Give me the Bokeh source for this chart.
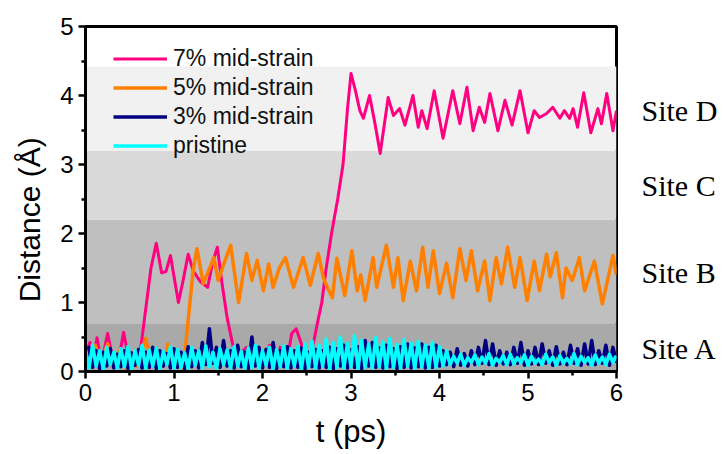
from bokeh.plotting import figure
from bokeh.models import Range1d, FixedTicker, LinearAxis
from bokeh.embed import file_html
from bokeh.resources import INLINE

# ---------------- data ----------------
site_names = ["Site A", "Site B", "Site C", "Site D"]
band_bottom = [0.0, 0.7, 2.2, 3.2]
band_top = [0.7, 2.2, 3.2, 4.42]
site_label_y = [0.33, 1.43, 2.70, 3.78]

series_names = ["7% mid-strain", "5% mid-strain", "3% mid-strain", "pristine"]

t7 = [0.0, 0.05, 0.09, 0.13, 0.18, 0.25, 0.32, 0.38, 0.43, 0.50, 0.58, 0.62, 0.68, 0.74, 0.80,
      0.86, 0.91, 0.96, 1.05, 1.10, 1.16, 1.22, 1.30, 1.38, 1.44, 1.49, 1.54, 1.60, 1.67, 1.72,
      1.78, 1.82, 1.88, 1.95, 2.02, 2.08, 2.14, 2.20, 2.27, 2.33, 2.38, 2.44, 2.50, 2.55, 2.62,
      2.67, 2.72, 2.78, 2.85, 2.91, 2.96, 3.00, 3.05, 3.10, 3.14, 3.21, 3.27, 3.33, 3.42, 3.48,
      3.55, 3.61, 3.70, 3.76, 3.80, 3.86, 3.94, 4.04, 4.15, 4.23, 4.31, 4.38, 4.45, 4.51, 4.57,
      4.66, 4.74, 4.82, 4.91, 5.00, 5.07, 5.13, 5.21, 5.28, 5.36, 5.41, 5.47, 5.51, 5.56, 5.63,
      5.71, 5.79, 5.83, 5.89, 5.96, 6.00]
d7 = [0.25, 0.42, 0.15, 0.49, 0.12, 0.55, 0.10, 0.20, 0.57, 0.12, 0.08, 0.30, 0.90, 1.50, 1.86,
      1.43, 1.45, 1.68, 1.00, 1.30, 1.70, 1.45, 1.30, 1.22, 1.60, 1.80, 1.30, 0.78, 0.35, 0.12,
      0.30, 0.35, 0.10, 0.30, 0.12, 0.38, 0.10, 0.35, 0.10, 0.55, 0.62, 0.40, 0.10, 0.25, 0.70,
      1.00, 1.50, 2.00, 2.50, 3.00, 3.80, 4.32, 4.07, 3.78, 3.67, 4.00, 3.60, 3.16, 3.97, 3.71,
      3.81, 3.57, 4.00, 3.54, 3.78, 3.52, 4.07, 3.38, 4.07, 3.59, 4.12, 3.49, 3.83, 3.61, 4.03,
      3.49, 3.93, 3.57, 4.07, 3.46, 3.78, 3.68, 3.74, 3.83, 3.67, 3.78, 3.67, 3.81, 3.54, 4.04,
      3.46, 3.81, 3.59, 4.03, 3.49, 3.78]

t5 = [0.0, 0.05, 0.11, 0.17, 0.25, 0.31, 0.38, 0.45, 0.52, 0.58, 0.68, 0.75, 0.82, 0.88, 0.93,
      1.00, 1.05, 1.10, 1.13, 1.18, 1.22, 1.26, 1.33, 1.45, 1.50, 1.56, 1.64, 1.73, 1.82, 1.88,
      1.94, 2.01, 2.07, 2.12, 2.19, 2.26, 2.35, 2.46, 2.54, 2.63, 2.69, 2.74, 2.79, 2.84, 2.93,
      3.01, 3.07, 3.11, 3.16, 3.25, 3.29, 3.40, 3.48, 3.53, 3.59, 3.67, 3.74, 3.81, 3.87, 3.93,
      4.00, 4.08, 4.15, 4.23, 4.30, 4.36, 4.43, 4.51, 4.57, 4.64, 4.70, 4.77, 4.85, 4.91, 4.99,
      5.07, 5.13, 5.21, 5.25, 5.32, 5.39, 5.43, 5.50, 5.58, 5.64, 5.75, 5.84, 5.96, 6.00]
d5 = [0.20, 0.10, 0.38, 0.12, 0.40, 0.08, 0.30, 0.05, 0.25, 0.08, 0.48, 0.10, 0.30, 0.08, 0.40,
      0.12, 0.30, 0.05, 0.35, 1.00, 1.50, 1.78, 1.27, 1.65, 1.32, 1.55, 1.83, 1.00, 1.71, 1.32,
      1.61, 1.17, 1.56, 1.22, 1.50, 1.65, 1.22, 1.65, 1.25, 1.71, 1.35, 1.20, 1.07, 1.64, 1.10,
      1.75, 1.17, 1.40, 1.03, 1.65, 1.22, 1.83, 1.22, 1.65, 1.03, 1.60, 1.17, 1.80, 1.22, 1.75,
      1.13, 1.57, 1.07, 1.78, 1.32, 1.75, 1.17, 1.60, 1.03, 1.65, 1.27, 1.80, 1.22, 1.65, 1.03,
      1.60, 1.17, 1.70, 1.37, 1.72, 1.07, 1.50, 1.32, 1.65, 1.17, 1.60, 0.98, 1.68, 1.40]

# sampling grid (every 0.04 ps) shared by the two low-lying series
t_low = [round(0.04 * i, 2) for i in range(151)]
d3 = [0.10, 0.35, 0.06, 0.30, 0.04, 0.28, 0.08, 0.33, 0.05, 0.25, 0.07, 0.30, 0.04, 0.27, 0.09, 0.32, 0.05, 0.28, 0.06, 0.35,
      0.04, 0.30, 0.08, 0.26, 0.05, 0.33, 0.06, 0.28, 0.04, 0.36, 0.07, 0.30, 0.05, 0.42, 0.10, 0.62, 0.12, 0.35, 0.06, 0.45,
      0.08, 0.30, 0.05, 0.38, 0.07, 0.28, 0.04, 0.50, 0.08, 0.35, 0.05, 0.32, 0.06, 0.42, 0.04, 0.30, 0.07, 0.36, 0.05, 0.30,
      0.06, 0.34, 0.04, 0.28, 0.07, 0.32, 0.05, 0.30, 0.06, 0.35, 0.04, 0.33, 0.08, 0.38, 0.05, 0.31, 0.06, 0.36, 0.04, 0.45,
      0.08, 0.42, 0.06, 0.34, 0.05, 0.38, 0.07, 0.33, 0.04, 0.36, 0.06, 0.40, 0.05, 0.34, 0.07, 0.40, 0.05, 0.35, 0.06, 0.38,
      0.08, 0.30, 0.10, 0.28, 0.07, 0.33, 0.09, 0.26, 0.08, 0.30, 0.10, 0.35, 0.12, 0.45, 0.10, 0.40, 0.09, 0.30, 0.11, 0.28,
      0.10, 0.35, 0.12, 0.42, 0.09, 0.30, 0.11, 0.35, 0.10, 0.40, 0.12, 0.30, 0.09, 0.36, 0.11, 0.28, 0.10, 0.38, 0.12, 0.33,
      0.09, 0.40, 0.11, 0.45, 0.10, 0.30, 0.12, 0.38, 0.09, 0.35, 0.13]
d0 = [0.32, 0.05, 0.38, 0.08, 0.30, 0.04, 0.35, 0.10, 0.28, 0.05, 0.33, 0.07, 0.36, 0.04, 0.30, 0.09, 0.38, 0.05, 0.31, 0.08,
      0.34, 0.04, 0.29, 0.10, 0.36, 0.05, 0.32, 0.06, 0.27, 0.04, 0.35, 0.09, 0.30, 0.05, 0.37, 0.07, 0.28, 0.04, 0.33, 0.10,
      0.31, 0.05, 0.36, 0.08, 0.29, 0.04, 0.34, 0.06, 0.38, 0.05, 0.30, 0.09, 0.35, 0.04, 0.32, 0.07, 0.37, 0.05, 0.33, 0.08,
      0.36, 0.04, 0.40, 0.06, 0.44, 0.05, 0.38, 0.08, 0.47, 0.04, 0.42, 0.06, 0.50, 0.05, 0.41, 0.07, 0.52, 0.04, 0.45, 0.06,
      0.40, 0.05, 0.49, 0.07, 0.43, 0.04, 0.48, 0.06, 0.39, 0.05, 0.46, 0.08, 0.41, 0.04, 0.44, 0.07, 0.38, 0.05, 0.42, 0.06,
      0.36, 0.08, 0.30, 0.10, 0.22, 0.12, 0.25, 0.09, 0.20, 0.13, 0.24, 0.10, 0.21, 0.12, 0.26, 0.09, 0.19, 0.13, 0.23, 0.10,
      0.25, 0.11, 0.20, 0.13, 0.24, 0.09, 0.22, 0.12, 0.18, 0.10, 0.25, 0.13, 0.21, 0.09, 0.23, 0.12, 0.19, 0.11, 0.26, 0.10,
      0.22, 0.13, 0.20, 0.09, 0.24, 0.12, 0.21, 0.10, 0.25, 0.13, 0.23]

x_ticks = [0, 1, 2, 3, 4, 5, 6]
y_ticks = [0, 1, 2, 3, 4, 5]
x_minor = [0.5, 1.5, 2.5, 3.5, 4.5, 5.5]
y_minor = [0.5, 1.5, 2.5, 3.5, 4.5]

# ---------------- styles ----------------
band_colors = ["#a9a9a9", "#bfbfbf", "#d9d9d9", "#f1f1f1"]
line_colors = ["#ff0080", "#ff8000", "#000080", "#00ffff"]
line_widths = [3, 3.5, 3.5, 3.5]
SANS = "Liberation Sans"
SERIF = "Liberation Serif"

p = figure(width=720, height=454, x_range=Range1d(0, 6), y_range=Range1d(0, 5),
           output_backend="svg", toolbar_location=None,
           min_border_left=85, min_border_right=103, min_border_top=26, min_border_bottom=83)
p.xgrid.visible = False
p.ygrid.visible = False
p.outline_line_color = "black"
p.outline_line_width = 3
p.outline_line_alpha = 1
p.background_fill_color = "white"

# site bands
p.quad(left=0, right=6, bottom=band_bottom, top=band_top, fill_color=band_colors, line_color=None)

series = [(t7, d7), (t5, d5), (t_low, d3), (t_low, d0)]
for (tt, dd), name, col, lw in zip(series, series_names, line_colors, line_widths):
    p.line(tt, dd, line_color=col, line_width=lw, legend_label=name, line_join="round")

# axes
for ax, ticks, minor in ((p.xaxis[0], x_ticks, x_minor), (p.yaxis[0], y_ticks, y_minor)):
    ax.ticker = FixedTicker(ticks=ticks, minor_ticks=minor)
    ax.axis_line_width = 3
    ax.axis_line_color = "black"
    ax.major_tick_line_width = 2.5
    ax.minor_tick_line_width = 2.5
    ax.major_tick_in = 0
    ax.major_tick_out = 7
    ax.minor_tick_in = 0
    ax.minor_tick_out = 4
    ax.major_label_text_font = SANS
    ax.major_label_text_font_size = "24px"
    ax.major_label_text_color = "black"
    ax.axis_label_text_font = SANS
    ax.axis_label_text_font_style = "normal"
    ax.axis_label_text_color = "black"
    ax.major_label_standoff = 5

p.xaxis.axis_label = "t (ps)"
p.xaxis.axis_label_text_font_size = "31px"
p.xaxis.axis_label_standoff = 10
# trailing no-break spaces nudge the rotated label slightly downward, as in the original
p.yaxis.axis_label = "Distance (Å)" + "\u00a0" * 5
p.yaxis.axis_label_text_font_size = "30px"
p.yaxis.axis_label_standoff = 11

# site names as a label-only axis on the right
site_axis = LinearAxis(ticker=FixedTicker(ticks=site_label_y, minor_ticks=[]),
                       major_label_overrides={yv: nm for yv, nm in zip(site_label_y, site_names)})
site_axis.axis_line_alpha = 0
site_axis.major_tick_line_alpha = 0
site_axis.major_tick_in = 0
site_axis.major_tick_out = 0
site_axis.minor_tick_line_alpha = 0
site_axis.major_label_standoff = 25
site_axis.major_label_text_font = SERIF
site_axis.major_label_text_font_size = "30px"
site_axis.major_label_text_color = "black"
p.add_layout(site_axis, "right")

# legend
lg = p.legend[0]
lg.location = (28, 211)
lg.background_fill_alpha = 0
lg.border_line_alpha = 0
lg.label_text_font = SANS
lg.label_text_font_size = "23px"
lg.label_text_color = "#111111"
lg.glyph_width = 54
lg.glyph_height = 29
lg.label_height = 29
lg.label_standoff = 6
lg.spacing = 0
lg.margin = 0
lg.padding = 0

open("out.html", "w").write(file_html(p, INLINE))
